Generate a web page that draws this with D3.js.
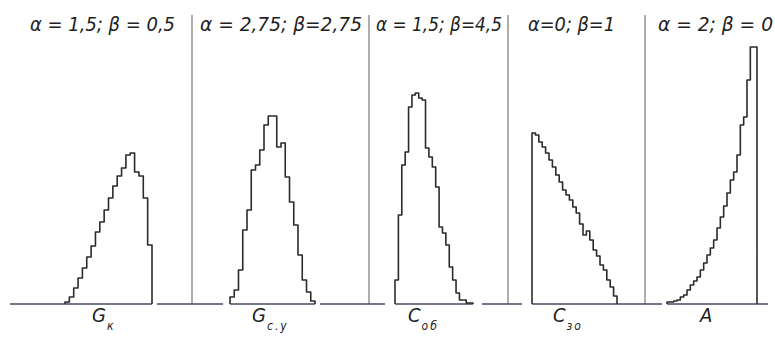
<!DOCTYPE html>
<html>
<head>
<meta charset="utf-8">
<script src="https://cdn.jsdelivr.net/npm/d3@7"></script>
<style>
  body { margin: 0; background: #fff; }
  svg { display: block; }
  .hist { fill: none; stroke: #2b2b2b; stroke-width: 1.6; stroke-linejoin: round; }
  .base { stroke: #4a4860; stroke-width: 1.6; }
  .sep { stroke: #6a6a6a; stroke-width: 1.1; }
  .lbl { font-family: "Liberation Sans Narrow", "DejaVu Sans Condensed", sans-serif; font-style: italic; fill: #222; }
</style>
</head>
<body>
<svg width="775" height="342"></svg>
<script>
// parameter labels above each panel
const params = ["α = 1,5; β = 0,5", "α = 2,75; β=2,75", "α = 1,5; β=4,5", "α=0; β=1", "α = 2; β = 0"];
// names under each panel: main letter + subscript
const names = [["G", "к"], ["G", "с.у"], ["С", "об"], ["С", "зо"], ["А", ""]];

// bin heights (relative frequency units)
const gK  = [2, 7, 16, 26, 36, 47, 58, 72, 82, 94, 106, 118, 128, 136, 149, 151, 132, 128, 106, 59];
const gCY = [7, 14, 34, 74, 94, 134, 139, 154, 179, 188, 188, 157, 161, 127, 102, 79, 49, 24, 12, 3];
const cOB = [24, 89, 139, 152, 197, 209, 211, 206, 204, 156, 147, 137, 117, 77, 71, 59, 37, 24, 11, 4, 4, 1, 1];
const cZO = [171, 169, 162, 157, 151, 144, 137, 129, 122, 114, 109, 104, 97, 91, 80, 69, 73, 64, 54, 48, 39, 34, 24, 17, 8];
const aA  = [2, 2, 3, 4, 7, 9, 14, 19, 23, 27, 34, 41, 49, 56, 64, 76, 87, 98, 111, 124, 132, 149, 179, 187, 224, 257, 257];

const series = [gK, gCY, cOB, cZO, aA];

// layout (pixels)
const baseY = 304;
const histX = [[65, 152], [230, 315], [395, 473], [532, 617], [667, 757]];
const baseSegs = [[10, 152], [157, 223], [230, 315], [320, 385], [395, 473], [482, 522], [532, 662], [667, 768]];
const seps = [192, 369, 508, 645];
const paramX = [[30, 175], [200, 362], [376, 502], [528, 615], [658, 773]];
const nameX = [92, 252, 408, 553, 700];

let svg = d3.select("svg");

let y = d3.scaleLinear()
    .domain([0, 260])
    .range([baseY, 44]);

// separators
svg.append("g")
    .selectAll("line")
    .data(seps)
    .enter()
    .append("line")
    .attr("class", "sep")
    .attr("x1", d => d).attr("x2", d => d)
    .attr("y1", 15).attr("y2", baseY);

// baseline pieces
svg.append("g")
    .selectAll("line")
    .data(baseSegs)
    .enter()
    .append("line")
    .attr("class", "base")
    .attr("x1", d => d[0]).attr("x2", d => d[1])
    .attr("y1", baseY).attr("y2", baseY);

// step histograms
series.forEach((vals, k) => {
    let x = d3.scaleLinear()
        .domain([0, vals.length])
        .range(histX[k]);
    let pts = [[x(0), y(0)]];
    vals.forEach((v, i) => {
        pts.push([x(i), y(v)]);
        pts.push([x(i + 1), y(v)]);
    });
    pts.push([x(vals.length), y(0)]);
    svg.append("path")
        .attr("class", "hist")
        .attr("d", d3.line()(pts));
});

// parameter labels
svg.append("g")
    .selectAll("text")
    .data(params)
    .enter()
    .append("text")
    .attr("class", "lbl")
    .attr("x", (d, i) => paramX[i][0])
    .attr("y", 31)
    .attr("font-size", 19)
    .attr("textLength", (d, i) => paramX[i][1] - paramX[i][0])
    .attr("lengthAdjust", "spacingAndGlyphs")
    .text(d => d);

// names under panels
let nm = svg.append("g")
    .selectAll("text")
    .data(names)
    .enter()
    .append("text")
    .attr("class", "lbl")
    .attr("x", (d, i) => nameX[i])
    .attr("y", 322)
    .attr("font-size", 20);

nm.append("tspan").text(d => d[0]);
nm.append("tspan")
    .attr("font-size", 12)
    .attr("dx", 1)
    .attr("dy", 8)
    .attr("letter-spacing", 2)
    .text(d => d[1]);
</script>
</body>
</html>
